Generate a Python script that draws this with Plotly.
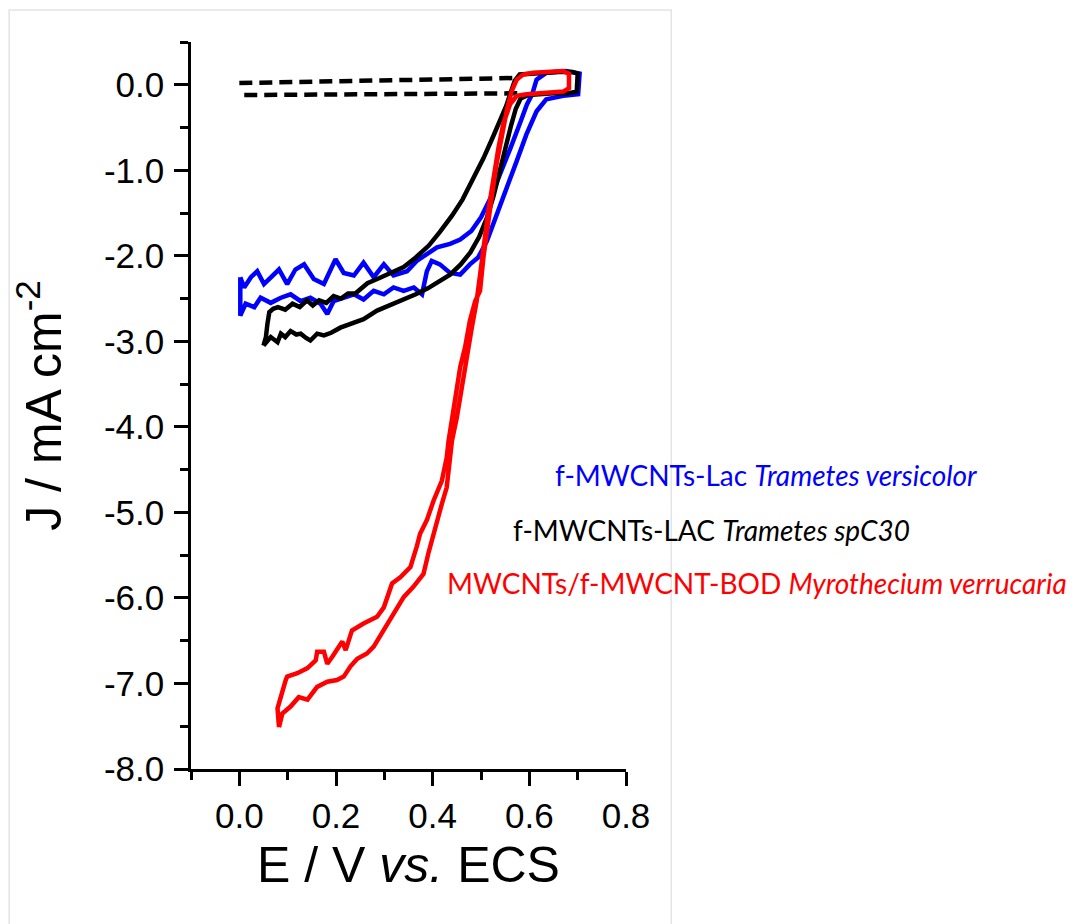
import plotly.graph_objects as go

# blank CV (dashed), two sweeps
blank_e = [0.575, 0.30, 0.0, None, 0.0, 0.30, 0.58]
blank_j = [-0.10, -0.11, -0.12, None, 0.02, 0.05, 0.08]

# f-MWCNTs-Lac Trametes versicolor (blue)
lac_tv_e = [0.002, 0.010, 0.024, 0.037, 0.051, 0.068, 0.082, 0.099, 0.116, 0.134,
            0.154, 0.175, 0.199, 0.216, 0.237, 0.257, 0.278, 0.299, 0.319, 0.347,
            0.367, 0.388, 0.409, 0.436, 0.457, 0.480, 0.500, 0.520, 0.540, 0.561,
            0.582, 0.595, 0.606, 0.615, 0.635, 0.676, 0.704, 0.701, 0.670, 0.635,
            0.615, 0.594, 0.574, 0.553, 0.532, 0.512, 0.494, 0.477, 0.457, 0.436,
            0.415, 0.398, 0.388, 0.378, 0.361, 0.340, 0.319, 0.299, 0.278, 0.257,
            0.237, 0.216, 0.195, 0.182, 0.168, 0.147, 0.127, 0.106, 0.086, 0.065,
            0.044, 0.031, 0.013, 0.002, 0.002]
lac_tv_j = [-2.25, -2.37, -2.25, -2.18, -2.33, -2.23, -2.16, -2.33, -2.16, -2.10,
            -2.27, -2.33, -2.04, -2.20, -2.23, -2.08, -2.25, -2.10, -2.23, -2.18,
            -2.06, -1.98, -1.90, -1.86, -1.81, -1.71, -1.55, -1.32, -1.05, -0.74,
            -0.43, -0.23, -0.11, 0.06, 0.14, 0.16, 0.13, -0.11, -0.13, -0.17,
            -0.31, -0.58, -0.89, -1.20, -1.51, -1.83, -2.02, -2.10, -2.22, -2.20,
            -2.10, -2.06, -2.18, -2.45, -2.37, -2.41, -2.37, -2.45, -2.41, -2.51,
            -2.45, -2.49, -2.53, -2.68, -2.56, -2.49, -2.53, -2.45, -2.49, -2.55,
            -2.49, -2.60, -2.56, -2.70, -2.25]

# f-MWCNTs-LAC Trametes spC30 (black)
lac_c30_e = [0.050, 0.055, 0.058, 0.062, 0.070, 0.080, 0.095, 0.110, 0.125, 0.140,
             0.152, 0.165, 0.180, 0.195, 0.210, 0.225, 0.240, 0.265, 0.290, 0.315,
             0.340, 0.365, 0.392, 0.415, 0.440, 0.462, 0.484, 0.505, 0.524, 0.540,
             0.552, 0.562, 0.570, 0.580, 0.620, 0.660, 0.690, 0.700, 0.698, 0.680,
             0.650, 0.620, 0.598, 0.582, 0.572, 0.562, 0.551, 0.539, 0.526, 0.512,
             0.496, 0.478, 0.458, 0.436, 0.412, 0.390, 0.365, 0.340, 0.312, 0.285,
             0.257, 0.230, 0.209, 0.190, 0.175, 0.161, 0.147, 0.138, 0.127, 0.118,
             0.106, 0.095, 0.086, 0.079, 0.065, 0.050]
lac_c30_j = [-3.05, -2.95, -2.80, -2.66, -2.62, -2.60, -2.63, -2.56, -2.60, -2.52,
             -2.58, -2.52, -2.55, -2.47, -2.50, -2.44, -2.44, -2.32, -2.26, -2.20,
             -2.13, -2.02, -1.88, -1.72, -1.53, -1.34, -1.10, -0.86, -0.62, -0.42,
             -0.25, -0.08, 0.05, 0.12, 0.14, 0.15, 0.15, 0.13, -0.08, -0.10,
             -0.10, -0.11, -0.12, -0.16, -0.28, -0.48, -0.74, -1.02, -1.30, -1.56,
             -1.78, -1.96, -2.10, -2.22, -2.31, -2.38, -2.45, -2.51, -2.58, -2.64,
             -2.74, -2.80, -2.84, -2.90, -2.93, -2.91, -2.99, -2.96, -2.91, -2.92,
             -2.88, -2.95, -2.91, -3.01, -2.95, -3.05]

# MWCNTs/f-MWCNT-BOD Myrothecium verrucaria (red)
bod_e = [0.082, 0.079, 0.096, 0.099, 0.120, 0.141, 0.158, 0.161, 0.175, 0.182,
         0.192, 0.213, 0.220, 0.233, 0.257, 0.285, 0.299, 0.316, 0.333, 0.354,
         0.367, 0.374, 0.388, 0.402, 0.419, 0.429, 0.433, 0.446, 0.457, 0.467,
         0.477, 0.488, 0.498, 0.505, 0.512, 0.522, 0.532, 0.543, 0.553, 0.563,
         0.574, 0.587, 0.608, 0.670, 0.682, 0.682, 0.670, 0.594, 0.574, 0.560,
         0.546, 0.536, 0.525, 0.515, 0.508, 0.501, 0.494, 0.491, 0.481, 0.471,
         0.460, 0.450, 0.440, 0.433, 0.429, 0.419, 0.405, 0.391, 0.381, 0.360,
         0.340, 0.319, 0.299, 0.278, 0.264, 0.244, 0.230, 0.216, 0.202, 0.182,
         0.161, 0.141, 0.123, 0.106, 0.089, 0.082]
bod_j = [-7.51, -7.29, -6.96, -6.92, -6.88, -6.82, -6.73, -6.63, -6.63, -6.77,
         -6.69, -6.51, -6.61, -6.38, -6.30, -6.22, -6.11, -5.83, -5.76, -5.64,
         -5.40, -5.25, -5.09, -4.86, -4.63, -4.36, -4.16, -3.66, -3.30, -3.07,
         -2.76, -2.53, -2.41, -2.02, -1.71, -1.32, -0.93, -0.58, -0.31, -0.08,
         0.06, 0.12, 0.14, 0.16, 0.13, -0.04, -0.08, -0.11, -0.13, -0.23,
         -0.46, -0.74, -1.09, -1.48, -1.79, -2.10, -2.49, -2.53, -2.84, -3.19,
         -3.54, -3.89, -4.16, -4.47, -4.71, -4.90, -5.17, -5.48, -5.72, -5.87,
         -5.99, -6.18, -6.38, -6.57, -6.65, -6.71, -6.80, -6.92, -6.96, -6.98,
         -7.04, -7.19, -7.16, -7.27, -7.35, -7.51]

x_tickvals = [0.0, 0.2, 0.4, 0.6, 0.8]
x_ticktext = ["0.0", "0.2", "0.4", "0.6", "0.8"]
y_tickvals = [0, -1, -2, -3, -4, -5, -6, -7, -8]
y_ticktext = ["0.0", "-1.0", "-2.0", "-3.0", "-4.0", "-5.0", "-6.0", "-7.0", "-8.0"]

labels = [
    ("f-MWCNTs-Lac <i>Trametes versicolor</i>", "#0000ff", 1.322, 0.404),
    ("f-MWCNTs-LAC <i>Trametes spC30</i>", "black", 1.196, 0.329),
    ("MWCNTs/f-MWCNT-BOD <i>Myrothecium verrucaria</i>", "#ff0000", 1.300, 0.256),
]

fig = go.Figure()

fig.add_trace(go.Scatter(x=blank_e, y=blank_j, mode='lines',
                         line=dict(color='black', width=4.5, dash='13px,7px')))
fig.add_trace(go.Scatter(x=lac_tv_e, y=lac_tv_j, mode='lines',
                         line=dict(color='#0000ff', width=4.5)))
fig.add_trace(go.Scatter(x=lac_c30_e, y=lac_c30_j, mode='lines',
                         line=dict(color='black', width=4.5)))
fig.add_trace(go.Scatter(x=bod_e, y=bod_j, mode='lines',
                         line=dict(color='#ff0000', width=4.5)))

for text, color, xp, yp in labels:
    fig.add_annotation(text=text, x=xp, y=yp, xref='paper', yref='paper',
                       showarrow=False, xanchor='center', yanchor='middle',
                       font=dict(family='Lato', size=28, color=color))

# faint frame around the figure
fig.add_shape(type='rect', xref='paper', yref='paper',
              x0=-0.418, x1=1.104, y0=-0.3, y1=1.044,
              line=dict(color='#e4e4e4', width=1.5), layer='below')

axis_font = dict(family='Liberation Sans, Arial', size=35, color='black')

fig.update_xaxes(
    range=[-0.1, 0.8], tickvals=x_tickvals, ticktext=x_ticktext,
    showline=True, linecolor='black', linewidth=2.5,
    ticks='outside', ticklen=14, tickwidth=2.5, tickcolor='black',
    minor=dict(dtick=0.1, tick0=0, ticks='outside', ticklen=8, tickwidth=2.5, tickcolor='black'),
    showgrid=False, zeroline=False, tickfont=axis_font,
    title=dict(text="E / V <i>vs.</i> ECS", standoff=14,
               font=dict(family='Liberation Sans, Arial', size=50, color='black')),
)
fig.update_yaxes(
    range=[-8, 0.5], tickvals=y_tickvals, ticktext=y_ticktext,
    showline=True, linecolor='black', linewidth=2.5,
    ticks='outside', ticklen=14, tickwidth=2.5, tickcolor='black',
    minor=dict(dtick=0.5, tick0=0, ticks='outside', ticklen=8, tickwidth=2.5, tickcolor='black'),
    showgrid=False, zeroline=False, tickfont=axis_font, ticklabelstandoff=3,
    title=dict(text="J / mA cm<sup>-2</sup>", standoff=58,
               font=dict(family='Liberation Sans, Arial', size=50, color='black')),
)

fig.update_layout(
    width=1067, height=916,
    margin=dict(l=183, r=449, t=34, b=155, autoexpand=False),
    plot_bgcolor='white', paper_bgcolor='white',
    showlegend=False,
)

fig.write_html("out.html")
